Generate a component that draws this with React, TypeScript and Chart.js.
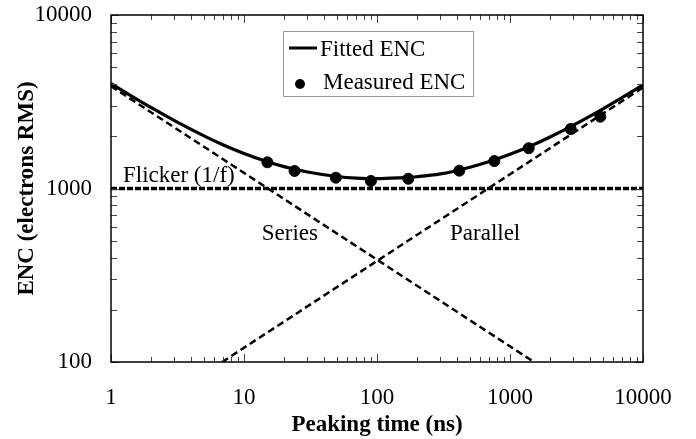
import React, { useEffect, useRef } from "react";
import { Chart, registerables } from "chart.js";

Chart.register(...registerables);

// ---- Data ----
const fitT = [1, 1.5, 2, 3, 5, 7, 10, 15, 20, 30, 50, 70, 100, 150, 200, 300, 500, 700, 1000, 1500, 2000, 3000, 5000, 7000, 10000];
const fitENC = [4020, 3330, 2930, 2460, 2010, 1780, 1590, 1425, 1336, 1244, 1173, 1148, 1139, 1152, 1169, 1213, 1327, 1430, 1573, 1788, 1981, 2320, 2880, 3350, 3950];

const measT = [15, 24, 49, 90, 172, 416, 762, 1383, 2860, 4775];
const measENC = [1416, 1262, 1154, 1105, 1138, 1267, 1440, 1706, 2203, 2594];

const seriesT = [1, 1513];
const seriesENC = [3890, 100];

const parallelT = [6.85, 10000];
const parallelENC = [100, 3820];

const flickerT = [1, 10000];
const flickerENC = [1000, 1000];

const xTickValues = [1, 10, 100, 1000, 10000];
const yTickValues = [100, 1000, 10000];
const minorMultipliers = [2, 3, 4, 5, 6, 7, 8, 9];

const annotationText = ["Flicker (1/f)", "Series", "Parallel"];
const annotationT = [1.23, 13.6, 354];
const annotationENC = [1090, 505, 505];

const legendLabels = ["Fitted ENC", "Measured ENC"];

const FONT = "'Liberation Serif', 'Times New Roman', serif";

const toXY = (xs: number[], ys: number[]) => xs.map((x, i) => ({ x, y: ys[i] }));

const decorPlugin = {
  id: "decor",
  afterDraw(chart: any) {
    const ctx = chart.ctx;
    const xs = chart.scales.x;
    const ys = chart.scales.y;
    const { left, right, top, bottom } = chart.chartArea;
    ctx.save();

    // tick marks (inside, all four sides)
    ctx.strokeStyle = "#444";
    ctx.lineWidth = 1;
    const tickAt = (isX: boolean, v: number, len: number) => {
      if (isX) {
        const p = Math.round(xs.getPixelForValue(v)) + 0.5;
        ctx.beginPath();
        ctx.moveTo(p, bottom);
        ctx.lineTo(p, bottom - len);
        ctx.moveTo(p, top);
        ctx.lineTo(p, top + len);
        ctx.stroke();
      } else {
        const p = Math.round(ys.getPixelForValue(v)) + 0.5;
        ctx.beginPath();
        ctx.moveTo(left, p);
        ctx.lineTo(left + len, p);
        ctx.moveTo(right, p);
        ctx.lineTo(right - len, p);
        ctx.stroke();
      }
    };
    for (let i = 0; i < xTickValues.length; i++) {
      tickAt(true, xTickValues[i], 8);
      if (i < xTickValues.length - 1) {
        minorMultipliers.forEach((m) => tickAt(true, xTickValues[i] * m, 5));
      }
    }
    for (let i = 0; i < yTickValues.length; i++) {
      tickAt(false, yTickValues[i], 8);
      if (i < yTickValues.length - 1) {
        minorMultipliers.forEach((m) => tickAt(false, yTickValues[i] * m, 6));
      }
    }

    // frame
    ctx.strokeStyle = "#000";
    ctx.lineWidth = 1.5;
    ctx.strokeRect(left, top, right - left, bottom - top);

    // annotations
    ctx.fillStyle = "#000";
    ctx.font = `23px ${FONT}`;
    ctx.textAlign = "left";
    ctx.textBaseline = "alphabetic";
    annotationText.forEach((t, i) => {
      ctx.fillText(t, xs.getPixelForValue(annotationT[i]), ys.getPixelForValue(annotationENC[i]));
    });

    // legend
    const bx = 283, by = 31, bw = 190, bh = 65;
    ctx.fillStyle = "#fff";
    ctx.fillRect(bx, by, bw, bh);
    ctx.strokeStyle = "#999";
    ctx.lineWidth = 1;
    ctx.strokeRect(bx + 0.5, by + 0.5, bw, bh);
    ctx.strokeStyle = "#000";
    ctx.lineWidth = 3;
    ctx.beginPath();
    ctx.moveTo(289, 48);
    ctx.lineTo(317, 48);
    ctx.stroke();
    ctx.fillStyle = "#000";
    ctx.beginPath();
    ctx.arc(300, 84, 5, 0, Math.PI * 2);
    ctx.fill();
    ctx.textBaseline = "middle";
    ctx.fillText(legendLabels[0], 320, 50);
    ctx.fillText(legendLabels[1], 323, 83);

    ctx.restore();
  },
};

export default function App() {
  const canvasRef = useRef<HTMLCanvasElement | null>(null);

  useEffect(() => {
    if (!canvasRef.current) return;
    const chart = new Chart(canvasRef.current, {
      type: "line",
      data: {
        datasets: [
          {
            label: "Measured ENC",
            data: toXY(measT, measENC),
            showLine: false,
            pointRadius: 5.5,
            pointBackgroundColor: "#000",
            pointBorderColor: "#000",
            borderColor: "#000",
            order: 0,
          },
          {
            label: "Fitted ENC",
            data: toXY(fitT, fitENC),
            borderColor: "#000",
            borderWidth: 3.2,
            pointRadius: 0,
            cubicInterpolationMode: "monotone",
            order: 1,
          },
          {
            label: "Series",
            data: toXY(seriesT, seriesENC),
            borderColor: "#000",
            borderWidth: 2.5,
            borderDash: [7, 4],
            pointRadius: 0,
            order: 2,
          },
          {
            label: "Parallel",
            data: toXY(parallelT, parallelENC),
            borderColor: "#000",
            borderWidth: 2.5,
            borderDash: [7, 4],
            pointRadius: 0,
            order: 2,
          },
          {
            label: "Flicker (1/f)",
            data: toXY(flickerT, flickerENC),
            borderColor: "#000",
            borderWidth: 3.5,
            borderDash: [6, 2],
            pointRadius: 0,
            order: 2,
          },
        ],
      },
      options: {
        animation: false,
        responsive: false,
        devicePixelRatio: 1,
        layout: { padding: { top: 15, right: 53, left: 0, bottom: 0 } },
        plugins: {
          legend: { display: false },
          tooltip: { enabled: false },
        },
        scales: {
          x: {
            type: "logarithmic",
            position: "bottom",
            min: 1,
            max: 10000,
            afterBuildTicks: (s: any) => {
              s.ticks = xTickValues.map((v) => ({ value: v }));
            },
            afterFit: (s: any) => {
              s.height = 77;
              s.paddingLeft = 0;
              s.paddingRight = 0;
            },
            grid: { display: false, drawTicks: false },
            border: { display: false },
            ticks: {
              autoSkip: false,
              maxRotation: 0,
              padding: 22,
              color: "#000",
              font: { family: FONT, size: 23 },
              callback: (v: any) => String(v),
            },
            title: {
              display: true,
              text: "Peaking time (ns)",
              color: "#000",
              font: { family: FONT, size: 23, weight: "bold" },
              padding: { top: 0, bottom: 0 },
            },
          },
          y: {
            type: "logarithmic",
            position: "left",
            min: 100,
            max: 10000,
            afterBuildTicks: (s: any) => {
              s.ticks = yTickValues.map((v) => ({ value: v }));
            },
            afterFit: (s: any) => {
              s.width = 111;
              s.paddingTop = 0;
              s.paddingBottom = 0;
            },
            grid: { display: false, drawTicks: false },
            border: { display: false },
            ticks: {
              autoSkip: false,
              padding: 19,
              color: "#000",
              font: { family: FONT, size: 23 },
              callback: (v: any) => String(v),
            },
            title: {
              display: true,
              text: "ENC (electrons RMS)",
              color: "#000",
              font: { family: FONT, size: 23, weight: "bold" },
              padding: { top: 13, bottom: 0 },
            },
          },
        },
      },
      plugins: [decorPlugin],
    } as any);
    return () => chart.destroy();
  }, []);

  return (
    <div style={{ position: "absolute", left: 0, top: 0, width: 696, height: 439, background: "#fff" }}>
      <canvas ref={canvasRef} width={696} height={439} style={{ width: 696, height: 439 }} />
    </div>
  );
}
